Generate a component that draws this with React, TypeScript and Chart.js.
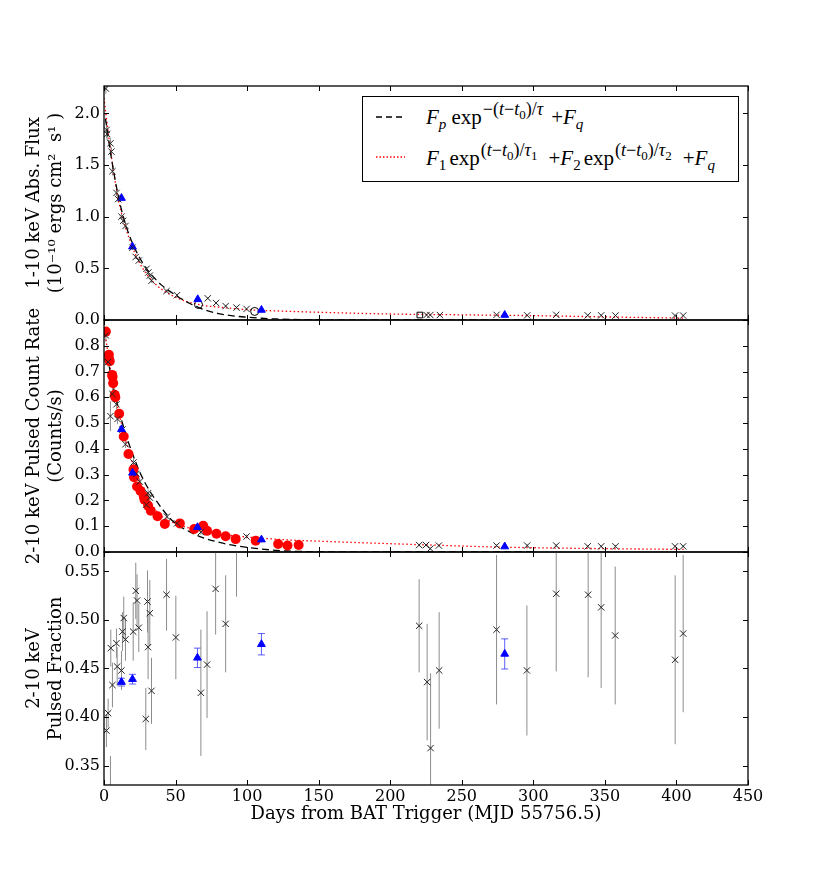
import React, { useEffect, useRef } from 'react';
import { Chart, registerables } from 'chart.js';

Chart.register(...registerables);

const FONT = "'DejaVu Serif', 'Liberation Serif', serif";
const MATH_FONT = "'Liberation Serif', 'DejaVu Serif', serif";

// x axis ticks (days)
const dayTicks = [0, 50, 100, 150, 200, 250, 300, 350, 400, 450];

// ---- panel 1: 1-10 keV absorbed flux ----
const fluxCrossDays = [1.3, 1.8, 2.2, 4.5, 5.2, 5.9, 8.7, 9.9, 12.2, 13.4, 15, 19.9, 22.2, 24.3, 29.7, 31, 32, 33.2, 43.7, 51, 72.5, 78.3, 85, 92.6, 99.6, 225.4, 228, 234.7, 274.3, 295.7, 316, 338, 347.4, 357.4, 399, 404.7];
const fluxCrossVals = [2.24, 1.84, 1.8, 1.71, 1.63, 1.44, 1.23, 1.17, 1.0, 0.96, 0.91, 0.7, 0.61, 0.575, 0.495, 0.46, 0.43, 0.38, 0.28, 0.24, 0.21, 0.165, 0.135, 0.12, 0.107, 0.048, 0.048, 0.048, 0.05, 0.045, 0.05, 0.045, 0.045, 0.043, 0.043, 0.043];
const fluxCrossErr = [0.05, 0.08, 0.06, 0.05, 0.04, 0.04, 0.03, 0.03, 0.03, 0.03, 0.03, 0.02, 0.02, 0.02, 0.02, 0.02, 0.02, 0.02, 0.015, 0.015, 0.01, 0.01, 0.01, 0.01, 0.01, 0.005, 0.005, 0.005, 0.005, 0.005, 0.005, 0.005, 0.005, 0.005, 0.005, 0.005];
const fluxTriDays = [12.2, 19.9, 65.5, 110, 280];
const fluxTriVals = [1.18, 0.71, 0.2, 0.097, 0.048];
const fluxCircleDays = [66, 105.3];
const fluxCircleVals = [0.15, 0.083];
const fluxSquareDays = [220.7];
const fluxSquareVals = [0.048];
const fluxExpDays = [1, 5, 10, 15, 20, 25, 30, 35, 40, 50, 60, 70, 80, 90, 100, 110, 120, 140, 170, 200, 250, 300];
const fluxExpVals = [1.95, 1.58, 1.2, 0.93, 0.74, 0.6, 0.49, 0.41, 0.34, 0.24, 0.16, 0.1, 0.062, 0.04, 0.027, 0.017, 0.01, 0.004, 0.001, 0, 0, 0];
const fluxDblDays = [0, 2, 5, 10, 15, 20, 25, 30, 35, 40, 50, 60, 70, 80, 100, 120, 150, 200, 250, 300, 350, 405];
const fluxDblVals = [2.15, 1.92, 1.6, 1.17, 0.9, 0.7, 0.55, 0.44, 0.36, 0.3, 0.22, 0.17, 0.14, 0.125, 0.1, 0.088, 0.075, 0.058, 0.05, 0.042, 0.03, 0.018];

// ---- panel 2: 2-10 keV pulsed count rate ----
const rateDotDays = [1.3, 3.4, 3.6, 4.0, 5.7, 6.0, 6.4, 7.5, 7.9, 10.6, 13.8, 17.1, 20.6, 21.0, 23.1, 25.5, 27.8, 28.3, 30.8, 32.7, 37.4, 42.5, 53, 63, 69.3, 72, 78.6, 85, 92, 106, 121.7, 128.2, 136];
const rateDotVals = [0.855, 0.765, 0.748, 0.74, 0.687, 0.68, 0.655, 0.61, 0.6, 0.536, 0.448, 0.38, 0.32, 0.29, 0.254, 0.237, 0.215, 0.203, 0.18, 0.16, 0.139, 0.109, 0.111, 0.089, 0.102, 0.082, 0.071, 0.061, 0.05, 0.044, 0.031, 0.025, 0.027];
const rateCrossDays = [1.3, 2.9, 4.5, 5.9, 8.7, 9.4, 12.9, 15, 20.6, 22.7, 25, 29.7, 30.8, 32, 44, 51, 67.7, 99.6, 220.2, 225, 228, 234, 274.3, 295.7, 316, 338, 347.4, 357.4, 399, 404.7];
const rateCrossVals = [0.84, 0.737, 0.527, 0.613, 0.573, 0.516, 0.475, 0.418, 0.347, 0.303, 0.273, 0.183, 0.228, 0.211, 0.137, 0.111, 0.077, 0.06, 0.027, 0.027, 0.013, 0.025, 0.025, 0.025, 0.025, 0.022, 0.022, 0.022, 0.022, 0.022];
const rateCrossErr = [0.025, 0.02, 0.058, 0.03, 0.02, 0.02, 0.02, 0.015, 0.015, 0.015, 0.015, 0.015, 0.015, 0.015, 0.01, 0.01, 0.01, 0.008, 0.005, 0.005, 0.005, 0.005, 0.005, 0.005, 0.005, 0.005, 0.005, 0.005, 0.005, 0.005];
const rateTriDays = [12.2, 19.9, 65.3, 110, 280];
const rateTriVals = [0.476, 0.307, 0.096, 0.048, 0.021];
const rateExpDays = [2, 3, 5, 10, 15, 20, 25, 30, 37, 48, 60, 67, 83, 106, 128, 150, 200, 300];
const rateExpVals = [0.76, 0.74, 0.68, 0.56, 0.46, 0.38, 0.31, 0.255, 0.195, 0.12, 0.078, 0.06, 0.034, 0.014, 0.004, 0.001, 0, 0];
const rateDblDays = [0, 2, 5, 10, 15, 20, 25, 30, 35, 40, 50, 60, 70, 80, 100, 128, 150, 207, 277, 350, 405];
const rateDblVals = [0.87, 0.8, 0.69, 0.55, 0.44, 0.345, 0.27, 0.21, 0.17, 0.14, 0.11, 0.092, 0.08, 0.07, 0.058, 0.047, 0.042, 0.031, 0.019, 0.013, 0.01];

// ---- panel 3: 2-10 keV pulsed fraction ----
const fracCrossDays = [1.7, 2.9, 4.5, 4.75, 5.9, 8.7, 9.2, 12.2, 12.9, 13.8, 15, 20.4, 22.2, 23.1, 24.3, 29.2, 30.4, 30.8, 32, 33.2, 43.7, 50.2, 67.7, 72, 78, 85, 92.6, 220.2, 225.8, 228.2, 234.2, 274.3, 295.5, 316, 338.3, 347.4, 357.2, 399.1, 404.7];
const fracCrossVals = [0.386, 0.404, 0.31, 0.471, 0.433, 0.476, 0.452, 0.448, 0.488, 0.502, 0.48, 0.488, 0.53, 0.52, 0.492, 0.398, 0.519, 0.472, 0.507, 0.427, 0.526, 0.482, 0.425, 0.454, 0.532, 0.496, 0.6, 0.494, 0.436, 0.368, 0.448, 0.49, 0.448, 0.527, 0.526, 0.513, 0.484, 0.459, 0.486];
const fracCrossErr = [0.017, 0.015, 0.05, 0.019, 0.023, 0.015, 0.02, 0.02, 0.02, 0.022, 0.022, 0.03, 0.029, 0.027, 0.025, 0.032, 0.032, 0.033, 0.034, 0.034, 0.037, 0.043, 0.065, 0.055, 0.047, 0.05, 0.076, 0.048, 0.06, 0.077, 0.06, 0.077, 0.067, 0.08, 0.085, 0.083, 0.071, 0.087, 0.081];
const fracTriDays = [12.2, 19.9, 65.3, 110, 280];
const fracTriVals = [0.436, 0.439, 0.461, 0.475, 0.465];
const fracTriErr = [0.004, 0.005, 0.01, 0.011, 0.0155];

const toPoints = (xs: number[], ys: number[]) => xs.map((x, i) => ({ x, y: ys[i] }));

const crosses = (xs: number[], ys: number[], errs: number[]) => ({
    data: toPoints(xs, ys),
    pointStyle: 'crossRot',
    pointRadius: 4.5,
    borderColor: '#222',
    backgroundColor: 'transparent',
    borderWidth: 1,
    errors: errs,
    errorColor: '#8c8c8c',
});

const triangles = (xs: number[], ys: number[], errs?: number[]) => ({
    data: toPoints(xs, ys),
    pointStyle: 'triangle',
    pointRadius: 4.5,
    borderColor: '#0000ff',
    backgroundColor: '#0000ff',
    borderWidth: 1,
    errors: errs,
    errorColor: 'rgba(40, 40, 255, 0.75)',
    errorCap: 3.5,
});

const curve = (xs: number[], ys: number[], dotted: boolean) => ({
    data: toPoints(xs, ys),
    showLine: true,
    pointRadius: 0,
    borderColor: dotted ? '#ff0000' : '#000',
    borderWidth: 1.3,
    borderDash: dotted ? [1.5, 2.5] : [7, 4],
    cubicInterpolationMode: 'monotone',
});

// error bars drawn through the chart's own scales
const errorBarPlugin = {
    id: 'errorBars',
    beforeDatasetsDraw(chart: any) {
        const { ctx, chartArea: a, scales } = chart;
        ctx.save();
        ctx.beginPath();
        ctx.rect(a.left, a.top, a.right - a.left, a.bottom - a.top);
        ctx.clip();
        chart.data.datasets.forEach((ds: any) => {
            if (!ds.errors) return;
            ctx.strokeStyle = ds.errorColor;
            ctx.lineWidth = 1;
            ds.data.forEach((p: any, i: number) => {
                const e = ds.errors[i];
                if (!e) return;
                const px = scales.x.getPixelForValue(p.x);
                const top = scales.y.getPixelForValue(p.y + e);
                const bot = scales.y.getPixelForValue(p.y - e);
                ctx.beginPath();
                ctx.moveTo(px, top);
                ctx.lineTo(px, bot);
                if (ds.errorCap) {
                    ctx.moveTo(px - ds.errorCap, top);
                    ctx.lineTo(px + ds.errorCap, top);
                    ctx.moveTo(px - ds.errorCap, bot);
                    ctx.lineTo(px + ds.errorCap, bot);
                }
                ctx.stroke();
            });
        });
        ctx.restore();
    },
};

// matplotlib-like box with inward ticks on all four sides
const framePlugin = {
    id: 'frame',
    afterDraw(chart: any) {
        const { ctx, chartArea: a, scales } = chart;
        const len = 5;
        ctx.save();
        ctx.strokeStyle = '#000';
        ctx.lineWidth = 1;
        ctx.beginPath();
        dayTicks.forEach((v) => {
            const px = Math.round(scales.x.getPixelForValue(v)) + 0.5;
            ctx.moveTo(px, a.bottom);
            ctx.lineTo(px, a.bottom - len);
            ctx.moveTo(px, a.top);
            ctx.lineTo(px, a.top + len);
        });
        scales.y.ticks.forEach((t: any) => {
            const py = Math.round(scales.y.getPixelForValue(t.value)) + 0.5;
            ctx.moveTo(a.left, py);
            ctx.lineTo(a.left + len, py);
            ctx.moveTo(a.right, py);
            ctx.lineTo(a.right - len, py);
        });
        ctx.stroke();
        ctx.lineWidth = 1.3;
        ctx.strokeRect(a.left, a.top, a.right - a.left, a.bottom - a.top);
        ctx.restore();
    },
};

const tickFont = { family: FONT, size: 16 };
const titleFont = { family: FONT, size: 18, lineHeight: 1.22 };

function makeConfig(datasets: any[], yMin: number, yMax: number, step: number, digits: number, hideAbove: number, yTitle: string[], showX: boolean): any {
    return {
        type: 'scatter',
        data: { datasets },
        options: {
            animation: false,
            responsive: false,
            events: [],
            layout: { padding: { left: 0, right: 82, top: 20, bottom: showX ? 27 : 20 } },
            plugins: { legend: { display: false }, tooltip: { enabled: false } },
            scales: {
                x: {
                    type: 'linear',
                    min: 0,
                    max: 450,
                    display: showX,
                    grid: { display: false, drawTicks: false },
                    border: { display: false },
                    ticks: { stepSize: 50, padding: 2, color: '#000', font: tickFont, maxRotation: 0, autoSkip: false, callback: (v: any) => String(v) },
                    title: { display: true, text: 'Days from BAT Trigger (MJD 55756.5)', color: '#000', font: titleFont, padding: { top: 0, bottom: 20 } },
                    afterFit: showX ? (s: any) => { s.height = 60; } : undefined,
                },
                y: {
                    type: 'linear',
                    min: yMin,
                    max: yMax,
                    grid: { display: false, drawTicks: false },
                    border: { display: false },
                    ticks: {
                        stepSize: step,
                        includeBounds: false,
                        padding: 4,
                        color: '#000',
                        font: tickFont,
                        callback: (v: any) => (v > hideAbove ? '' : Number(v).toFixed(digits)),
                    },
                    title: { display: true, text: yTitle, color: '#000', font: titleFont, padding: { top: 23, bottom: 0 } },
                    afterFit: (s: any) => { s.width = 104; },
                },
            },
        },
        plugins: [errorBarPlugin, framePlugin],
    };
}

const Sub: React.FC<{ children: React.ReactNode }> = ({ children }) => (
    <span style={{ fontSize: '0.72em', position: 'relative', top: '0.3em' }}>{children}</span>
);
const Sup: React.FC<{ children: React.ReactNode }> = ({ children }) => (
    <span style={{ fontSize: '0.86em', position: 'relative', top: '-0.5em', marginLeft: 1 }}>{children}</span>
);
const Gap: React.FC<{ w: number }> = ({ w }) => <span style={{ display: 'inline-block', width: w }} />;

const App: React.FC = () => {
    const fluxRef = useRef<HTMLCanvasElement>(null);
    const rateRef = useRef<HTMLCanvasElement>(null);
    const fracRef = useRef<HTMLCanvasElement>(null);

    useEffect(() => {
        const charts: Chart[] = [];
        if (fluxRef.current) {
            charts.push(new Chart(fluxRef.current, makeConfig([
                crosses(fluxCrossDays, fluxCrossVals, fluxCrossErr),
                triangles(fluxTriDays, fluxTriVals),
                { data: toPoints(fluxCircleDays, fluxCircleVals), pointStyle: 'circle', pointRadius: 4, borderColor: '#000', backgroundColor: 'transparent', borderWidth: 1 },
                { data: toPoints(fluxSquareDays, fluxSquareVals), pointStyle: 'rect', pointRadius: 4, borderColor: '#000', backgroundColor: 'transparent', borderWidth: 1 },
                curve(fluxExpDays, fluxExpVals, false),
                curve(fluxDblDays, fluxDblVals, true),
            ], 0, 2.265, 0.5, 1, 99, ['1-10 keV Abs. Flux', '(10\u207B\u00B9\u2070 ergs cm\u00B2  s\u00B9 )'], false)));
        }
        if (rateRef.current) {
            charts.push(new Chart(rateRef.current, makeConfig([
                triangles(rateTriDays, rateTriVals),
                crosses(rateCrossDays, rateCrossVals, rateCrossErr),
                { data: toPoints(rateDotDays, rateDotVals), pointStyle: 'circle', pointRadius: 5, borderColor: '#ff0000', backgroundColor: '#ff0000', borderWidth: 0 },
                curve(rateExpDays, rateExpVals, false),
                curve(rateDblDays, rateDblVals, true),
            ], 0, 0.9, 0.1, 1, 0.85, ['2-10 keV Pulsed Count Rate', '(Counts/s)'], false)));
        }
        if (fracRef.current) {
            charts.push(new Chart(fracRef.current, makeConfig([
                triangles(fracTriDays, fracTriVals, fracTriErr),
                crosses(fracCrossDays, fracCrossVals, fracCrossErr),
            ], 0.33, 0.57, 0.05, 2, 99, ['2-10 keV', 'Pulsed Fraction'], true)));
        }
        return () => {
            charts.forEach((c) => c.destroy());
        };
    }, []);

    return (
        <div style={{ position: 'absolute', left: 0, top: 0, width: 830, height: 872, background: '#fff', overflow: 'hidden' }}>
            <canvas ref={fluxRef} width={830} height={274} style={{ position: 'absolute', left: 0, top: 66 }} />
            <canvas ref={rateRef} width={830} height={272} style={{ position: 'absolute', left: 0, top: 300 }} />
            <canvas ref={fracRef} width={830} height={340} style={{ position: 'absolute', left: 0, top: 532 }} />
            <div style={{ position: 'absolute', left: 362, top: 96, width: 375, height: 84, border: '1px solid #000', background: '#fff', fontFamily: MATH_FONT, fontSize: 21, color: '#000' }}>
                <svg width={375} height={84} style={{ position: 'absolute', left: 0, top: 0 }}>
                    <line x1={13} y1={20} x2={42} y2={20} stroke="#000" strokeWidth={1.3} strokeDasharray="6 4" />
                    <line x1={13} y1={60} x2={42} y2={60} stroke="#ff0000" strokeWidth={1.3} strokeDasharray="1.5 2" />
                </svg>
                <div style={{ position: 'absolute', left: 63, top: 9, whiteSpace: 'nowrap', lineHeight: '22px' }}>
                    <i>F</i><Sub><i>p</i></Sub><Gap w={5} />exp<Sup>−(<i>t</i>−<i>t</i><Sub>0</Sub>)/<i>τ</i></Sup><Gap w={8} />+<i>F</i><Sub><i>q</i></Sub>
                </div>
                <div style={{ position: 'absolute', left: 63, top: 50, whiteSpace: 'nowrap', lineHeight: '22px' }}>
                    <i>F</i><Sub>1</Sub><Gap w={3} />exp<Sup>(<i>t</i>−<i>t</i><Sub>0</Sub>)/<i>τ</i><Sub>1</Sub></Sup><Gap w={11} />+<i>F</i><Sub>2</Sub><Gap w={3} />exp<Sup>(<i>t</i>−<i>t</i><Sub>0</Sub>)/<i>τ</i><Sub>2</Sub></Sup><Gap w={11} />+<i>F</i><Sub><i>q</i></Sub>
                </div>
            </div>
        </div>
    );
};

export default App;
